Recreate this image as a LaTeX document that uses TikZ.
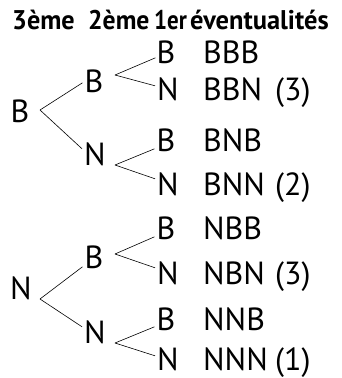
\documentclass[tikz,border=0pt]{standalone}
\usepackage{graphicx}
\usepackage{fontspec}
\setmainfont{PT Sans}
\begin{document}
\begin{tikzpicture}[x=1pt,y=1pt,
  lbl/.style={inner sep=0pt,anchor=base,font=\fontsize{32}{34}\selectfont},
  ev/.style={inner sep=0pt,anchor=base west,font=\fontsize{32}{34}\selectfont},
  hd/.style={inner sep=0pt,anchor=base west,font=\bfseries\fontsize{27}{29}\selectfont},
  br/.style={line width=0.6pt,black}]
\useasboundingbox (0,0) rectangle (342,-378);
% header
\node[hd] (h3) at (12,-29) {\scalebox{0.97}[1]{3ème}};
\node[hd] (h2) at (88,-29) {\scalebox{0.95}[1]{2ème}};
\node[hd] (h1) at (154,-29) {\scalebox{0.85}[1]{1er}};
\node[hd] (he) at (190,-29) {\scalebox{0.98}[1]{éventualités}};
% roots
\node[lbl] (rB) at (20,-122) {B};
\node[lbl] (rN) at (21,-299) {N};
% middle
\node[lbl] (mB1) at (94,-92) {B};
\node[lbl] (mN1) at (95,-165) {N};
\node[lbl] (mB2) at (94,-268) {B};
\node[lbl] (mN2) at (95,-343) {N};
% leaves
\node[lbl] (l1) at (166,-63) {B};
\node[lbl] (l2) at (168,-100) {N};
\node[lbl] (l3) at (166,-151) {B};
\node[lbl] (l4) at (168,-195) {N};
\node[lbl] (l5) at (166,-239) {B};
\node[lbl] (l6) at (168,-284) {N};
\node[lbl] (l7) at (166,-330) {B};
\node[lbl] (l8) at (168,-370) {N};
% outcomes
\node[ev] (e1) at (203,-63) {BBB};
\node[ev] (e2) at (203,-100) {BBN};
\node[ev] (e3) at (203,-151) {BNB};
\node[ev] (e4) at (203,-195) {BNN};
\node[ev] (e5) at (203,-239) {NBB};
\node[ev] (e6) at (203,-284) {NBN};
\node[ev] (e7) at (203,-330) {NNB};
\node[ev] (e8) at (203,-370) {NNN};
\node[ev] (c2) at (275,-100) {(3)};
\node[ev] (c4) at (275,-195) {(2)};
\node[ev] (c6) at (275,-284) {(3)};
\node[ev] (c8) at (275,-370) {(1)};
% forks
\coordinate (fB) at (40,-110);
\coordinate (fN) at (40,-299);
\coordinate (f1) at (115,-75);
\coordinate (f2) at (115,-165);
\coordinate (f3) at (115,-254);
\coordinate (f4) at (115,-343);
% branches
\draw[br] (fB) -- ([shift={(-2pt,-2pt)}]mB1.west);
\draw[br] (fB) -- ([shift={(-2pt,5pt)}]mN1.west);
\draw[br] (fN) -- ([shift={(-2pt,-10pt)}]mB2.west);
\draw[br] (fN) -- ([shift={(-2pt,5pt)}]mN2.west);
\draw[br] (f1) -- ([shift={(-1pt,-6pt)}]l1.west);
\draw[br] (f1) -- ([shift={(-2pt,3pt)}]l2.west);
\draw[br] (f2) -- ([shift={(-2pt,-9pt)}]l3.west);
\draw[br] (f2) -- ([shift={(-2pt,5pt)}]l4.west);
\draw[br] (f3) -- ([shift={(-2pt,-9pt)}]l5.west);
\draw[br] (f3) -- ([shift={(-2pt,5pt)}]l6.west);
\draw[br] (f4) -- ([shift={(-2pt,-8pt)}]l7.west);
\draw[br] (f4) -- ([shift={(-2pt,3pt)}]l8.west);
\end{tikzpicture}
\end{document}
